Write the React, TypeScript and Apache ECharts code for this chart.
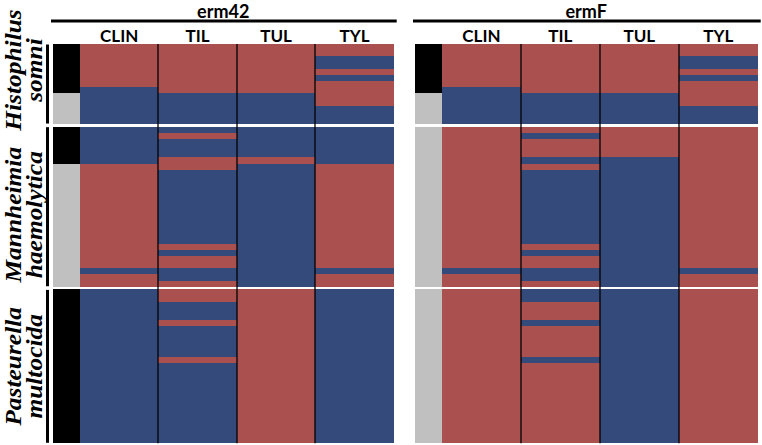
import React, { useEffect, useRef } from "react";
import * as echarts from "echarts";

// ---------------- data ----------------
const genes = ["erm42", "ermF"];
const drugs = ["CLIN", "TIL", "TUL", "TYL"];
const speciesGenus = ["Histophilus", "Mannheimia", "Pasteurella"];
const speciesEpithet = ["somni", "haemolytica", "multocida"];
const isolateCounts = [13, 26, 25];

// marker strip runs per species (top to bottom): K = black, G = grey
const erm42Marker = [[["K", 8], ["G", 5]], [["K", 6], ["G", 20]], [["K", 25]]];
const ermFMarker = [[["K", 8], ["G", 5]], [["G", 26]], [["G", 25]]];

// cell runs per species (top to bottom): R = red, B = blue
const erm42CLIN = [[["R", 7], ["B", 6]], [["B", 6], ["R", 17], ["B", 1], ["R", 2]], [["B", 25]]];
const erm42TIL = [
  [["R", 8], ["B", 5]],
  [["B", 1], ["R", 1], ["B", 3], ["R", 2], ["B", 12], ["R", 1], ["B", 1], ["R", 2], ["B", 2], ["R", 1]],
  [["R", 2], ["B", 3], ["R", 1], ["B", 5], ["R", 1], ["B", 13]],
];
const erm42TUL = [[["R", 8], ["B", 5]], [["B", 5], ["R", 1], ["B", 20]], [["R", 25]]];
const erm42TYL = [
  [["R", 2], ["B", 2], ["R", 1], ["B", 1], ["R", 4], ["B", 3]],
  [["B", 6], ["R", 17], ["B", 1], ["R", 2]],
  [["B", 25]],
];
const ermFCLIN = [[["R", 7], ["B", 6]], [["R", 23], ["B", 1], ["R", 2]], [["R", 25]]];
const ermFTIL = [
  [["R", 8], ["B", 5]],
  [["R", 1], ["B", 1], ["R", 3], ["B", 1], ["R", 1], ["B", 12], ["R", 1], ["B", 1], ["R", 2], ["B", 2], ["R", 1]],
  [["B", 2], ["R", 3], ["B", 1], ["R", 5], ["B", 1], ["R", 13]],
];
const ermFTUL = [[["R", 8], ["B", 5]], [["R", 5], ["B", 21]], [["B", 25]]];
const ermFTYL = [
  [["R", 2], ["B", 2], ["R", 1], ["B", 1], ["R", 4], ["B", 3]],
  [["R", 23], ["B", 1], ["R", 2]],
  [["R", 25]],
];

const markerRuns = [erm42Marker, ermFMarker];
const cellRuns = [
  [erm42CLIN, erm42TIL, erm42TUL, erm42TYL],
  [ermFCLIN, ermFTIL, ermFTUL, ermFTYL],
];

// ---------------- layout / style ----------------
const COLORS: Record<string, string> = { R: "#AA514F", B: "#344A7B", K: "#000000", G: "#C0C0C0" };
const CODES = ["R", "B", "K", "G"];
const GAP = 0.43; // white gap between species, in row units
const PLOT_TOP = 44;
const PLOT_H = 399.3;
const PANELS = [
  { sideLeft: 52.7, colsLeft: 80, colsRight: 393.7 },
  { sideLeft: 414.7, colsLeft: 442, colsRight: 757.7 },
];
const LABEL_SHIFT = [-14, 8, 0];
const LABEL_STRETCH = 1.06;
const SERIF = '"Liberation Serif", "Times New Roman", serif';
const SANS = 'Lato, "Open Sans", "Liberation Sans", sans-serif';

const groupStart: number[] = [];
{
  let acc = 0;
  isolateCounts.forEach((n, i) => {
    groupStart.push(acc + i * GAP);
    acc += n;
  });
}
const TOTAL = isolateCounts.reduce((a, b) => a + b, 0) + (isolateCounts.length - 1) * GAP;

function runsToItems(col: number, runsBySpecies: any[]) {
  const out: number[][] = [];
  runsBySpecies.forEach((runs: any[], s: number) => {
    let r = 0;
    runs.forEach(([code, len]: [string, number]) => {
      const y0 = groupStart[s] + r;
      out.push([col, y0, y0 + len, CODES.indexOf(code)]);
      r += len;
    });
  });
  return out;
}

const renderCell = (params: any, api: any) => {
  const c = api.value(0);
  const p0 = api.coord([c, api.value(1)]);
  const p1 = api.coord([c, api.value(2)]);
  const bw = api.size([1, 0])[0];
  const left = Math.round(p0[0] - bw / 2);
  const right = Math.round(p0[0] + bw / 2);
  const top = Math.round(p0[1]);
  const bottom = Math.round(p1[1]);
  return {
    type: "rect",
    shape: { x: left, y: top, width: right - left, height: bottom - top },
    style: { fill: COLORS[CODES[api.value(3)]] },
  };
};

const renderDivider = (params: any, api: any) => {
  const c = api.value(0);
  const p = api.coord([c, 0]);
  const bw = api.size([1, 0])[0];
  const x = Math.round(p[0] - bw / 2);
  const cs = params.coordSys;
  return {
    type: "line",
    shape: { x1: x, y1: cs.y, x2: x, y2: cs.y + cs.height },
    style: { stroke: "#000", lineWidth: 1.3 },
  };
};

const renderGroup = (params: any, api: any) => {
  const s = api.value(0);
  const p0 = api.coord([0, api.value(1)]);
  const p1 = api.coord([0, api.value(2)]);
  const cs = params.coordSys;
  const cy = (p0[1] + p1[1]) / 2 + LABEL_SHIFT[s];
  const textStyle = (t: string) => ({
    text: t,
    fill: "#000",
    fontSize: 24,
    fontFamily: SERIF,
    fontWeight: "bold",
    fontStyle: "italic",
    align: "center",
    verticalAlign: "middle",
    textAlign: "center",
    textVerticalAlign: "middle",
  });
  return {
    type: "group",
    children: [
      {
        type: "rect",
        shape: { x: cs.x - 6.7, y: p0[1] + 0.5, width: 3, height: p1[1] - p0[1] - 1 },
        style: { fill: "#000" },
      },
      {
        type: "text",
        x: cs.x - 40.2,
        y: cy,
        rotation: Math.PI / 2,
        scaleX: LABEL_STRETCH,
        style: textStyle(speciesGenus[s]),
      },
      {
        type: "text",
        x: cs.x - 18.5,
        y: cy,
        rotation: Math.PI / 2,
        scaleX: LABEL_STRETCH,
        style: textStyle(speciesEpithet[s]),
      },
    ],
  };
};

export default function App() {
  const ref = useRef<HTMLDivElement>(null);
  useEffect(() => {
    if (!ref.current) return;
    const chart = echarts.init(ref.current, null, { renderer: "svg" });

    const grid: any[] = [];
    const xAxis: any[] = [];
    const yAxis: any[] = [];
    const series: any[] = [];
    const graphic: any[] = [];

    PANELS.forEach((pn, p) => {
      const gSide = grid.length;
      grid.push({ left: pn.sideLeft, top: PLOT_TOP, width: pn.colsLeft - pn.sideLeft, height: PLOT_H });
      xAxis.push({ gridIndex: gSide, type: "category", data: ["marker"], show: false });
      yAxis.push({ gridIndex: gSide, type: "value", inverse: true, min: 0, max: TOTAL, show: false });
      const gCols = grid.length;
      grid.push({ left: pn.colsLeft, top: PLOT_TOP, width: pn.colsRight - pn.colsLeft, height: PLOT_H });
      xAxis.push({
        gridIndex: gCols,
        type: "category",
        data: drugs,
        position: "top",
        axisLine: { show: false },
        axisTick: { show: false },
        splitLine: { show: false },
        axisLabel: { color: "#000", fontFamily: SANS, fontWeight: "bold", fontSize: 17, margin: 0 },
      });
      yAxis.push({ gridIndex: gCols, type: "value", inverse: true, min: 0, max: TOTAL, show: false });

      series.push({
        type: "custom",
        name: genes[p] + " marker",
        xAxisIndex: gSide,
        yAxisIndex: gSide,
        renderItem: renderCell,
        encode: { x: 0, y: [1, 2] },
        data: runsToItems(0, markerRuns[p]),
        clip: false,
        silent: true,
      });
      const cells: number[][] = [];
      cellRuns[p].forEach((runs, c) => cells.push(...runsToItems(c, runs)));
      series.push({
        type: "custom",
        name: genes[p] + " cells",
        xAxisIndex: gCols,
        yAxisIndex: gCols,
        renderItem: renderCell,
        encode: { x: 0, y: [1, 2] },
        data: cells,
        clip: false,
        silent: true,
      });
      series.push({
        type: "custom",
        name: genes[p] + " dividers",
        xAxisIndex: gCols,
        yAxisIndex: gCols,
        renderItem: renderDivider,
        encode: { x: 0, y: 1 },
        data: [[1, 0], [2, 0], [3, 0]],
        clip: false,
        silent: true,
        z: 5,
      });
      if (p === 0) {
        series.push({
          type: "custom",
          name: "species",
          xAxisIndex: gSide,
          yAxisIndex: gSide,
          renderItem: renderGroup,
          encode: { x: 0, y: [1, 2] },
          data: isolateCounts.map((n, s) => [s, groupStart[s], groupStart[s] + n]),
          clip: false,
          silent: true,
        });
      }

      const x1 = pn.sideLeft - 1.7;
      const x2 = pn.colsRight + 3;
      graphic.push({
        type: "line",
        shape: { x1, y1: 21, x2, y2: 21 },
        style: { stroke: "#000", lineWidth: 3 },
      });
      graphic.push({
        type: "text",
        x: (pn.sideLeft + pn.colsRight) / 2,
        y: 11,
        style: {
          text: genes[p],
          fill: "#000",
          fontSize: 18,
          fontFamily: SANS,
          fontWeight: "bold",
          align: "center",
          verticalAlign: "middle",
          textAlign: "center",
          textVerticalAlign: "middle",
        },
      });
    });

    chart.setOption({
      animation: false,
      backgroundColor: "#fff",
      grid,
      xAxis,
      yAxis,
      series,
      graphic,
    });
    return () => chart.dispose();
  }, []);

  return (
    <div
      ref={ref}
      style={{ position: "absolute", left: 0, top: 0, width: 762, height: 445 }}
    />
  );
}
